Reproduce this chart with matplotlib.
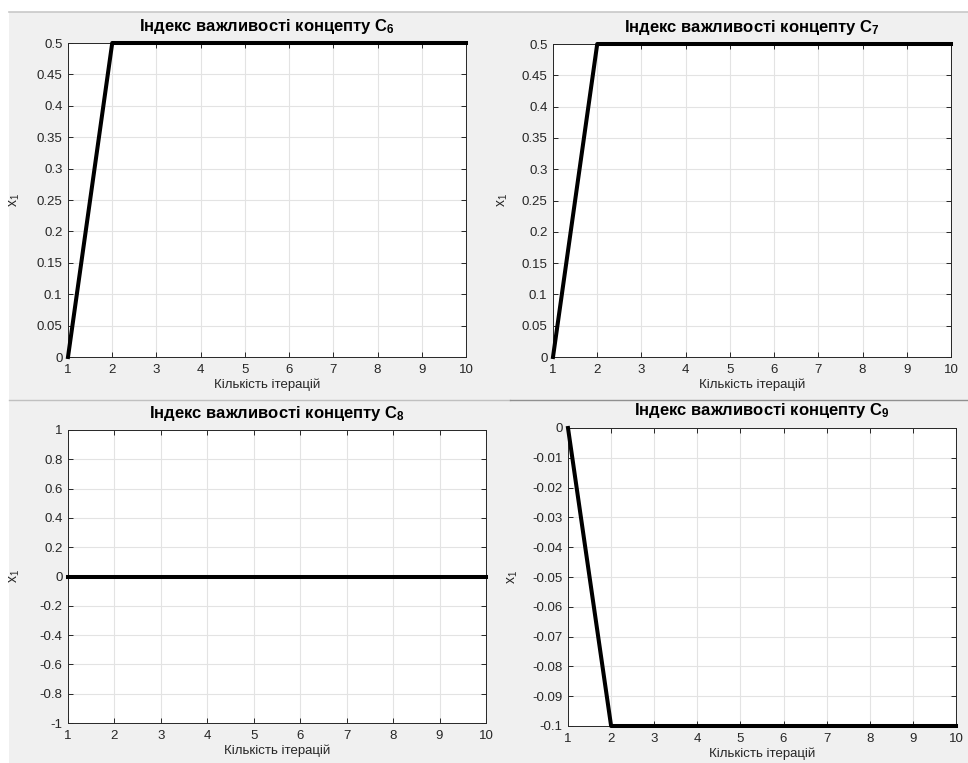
import numpy as np
import matplotlib
matplotlib.use("Agg")
import matplotlib.pyplot as plt
from matplotlib.patches import Rectangle
from matplotlib.lines import Line2D

plt.rcParams['font.family'] = ['Liberation Sans', 'DejaVu Sans']
plt.rcParams['mathtext.fontset'] = 'custom'
plt.rcParams['mathtext.rm'] = 'Liberation Sans'
plt.rcParams['mathtext.it'] = 'Liberation Sans'
plt.rcParams['mathtext.bf'] = 'Liberation Sans:bold'

# data
iterations = [1, 2, 3, 4, 5, 6, 7, 8, 9, 10]
c6 = [0, 0.5, 0.5, 0.5, 0.5, 0.5, 0.5, 0.5, 0.5, 0.5]
c7 = [0, 0.5, 0.5, 0.5, 0.5, 0.5, 0.5, 0.5, 0.5, 0.5]
c8 = [0, 0, 0, 0, 0, 0, 0, 0, 0, 0]
c9 = [0, -0.1, -0.1, -0.1, -0.1, -0.1, -0.1, -0.1, -0.1, -0.1]

concepts = ['6', '7', '8', '9']
series = [c6, c7, c8, c9]
ylims = [(0, 0.5), (0, 0.5), (-1, 1), (-0.1, 0)]
ysteps = [0.05, 0.05, 0.2, 0.01]

W, H = 968, 763
fig = plt.figure(figsize=(W / 100, H / 100), dpi=100)
fig.patch.set_facecolor('white')

def fx(px):
    return px / W

def fy(py):
    return 1 - py / H

# grey panel background
fig.patches.append(Rectangle((fx(9), 0), fx(W - 9), fy(12), transform=fig.transFigure,
                             facecolor='#f0f0f0', edgecolor='none', zorder=-2))
fig.lines.append(Line2D([fx(9), 1], [fy(12), fy(12)], transform=fig.transFigure,
                        color='#c8c8c8', lw=1.2, zorder=-1))
fig.lines.append(Line2D([fx(9), fx(510)], [fy(400), fy(400)], transform=fig.transFigure,
                        color='#c0c0c0', lw=1.0, zorder=-1))
fig.lines.append(Line2D([fx(510), 1], [fy(400), fy(400)], transform=fig.transFigure,
                        color='#909090', lw=1.0, zorder=-1))

# axes boxes in pixels: left, top, right, bottom
boxes = [(68, 43, 466, 357), (553, 44, 951, 357),
         (68, 430, 486, 723), (568, 428, 956, 726)]
ylabel_x = [22, 510, 22, 520]

txt = '#262626'
for i in range(4):
    l, t, r, b = boxes[i]
    ax = fig.add_axes([fx(l), fy(b), fx(r - l), (b - t) / H])
    ax.plot(iterations, series[i], color='black', lw=2.9, clip_on=False, zorder=3)
    ax.set_xlim(1, 10)
    ax.set_ylim(*ylims[i])
    ax.set_xticks(iterations)
    lo, hi = ylims[i]
    yt = np.round(np.arange(lo, hi + ysteps[i] / 2, ysteps[i]), 4) + 0.0
    ax.set_yticks(yt)
    ax.set_yticklabels(['%g' % (v if abs(v) > 1e-9 else 0) for v in yt])
    ax.grid(True, color='#e3e3e3', lw=0.8)
    ax.set_axisbelow(True)
    ax.tick_params(direction='in', top=True, right=True, length=3.5, width=0.7,
                   labelsize=9.5, colors=txt)
    ax.tick_params(axis='x', pad=5)
    ax.tick_params(axis='y', pad=4)
    for s in ax.spines.values():
        s.set_color('#262626')
        s.set_linewidth(0.7)
    ax.set_title('Індекс важливості концепту C$_{\\mathbf{%s}}$' % concepts[i],
                 fontsize=12, fontweight='bold', color='black', pad=9)
    ax.set_xlabel('Кількість ітерацій', fontsize=9.5, color=txt, labelpad=2)
    ax.set_ylabel('x$_1$', fontsize=10, color=txt)
    ax.yaxis.set_label_coords((ylabel_x[i] - l) / (r - l), 0.5)

fig.savefig('out.png', dpi=100)
